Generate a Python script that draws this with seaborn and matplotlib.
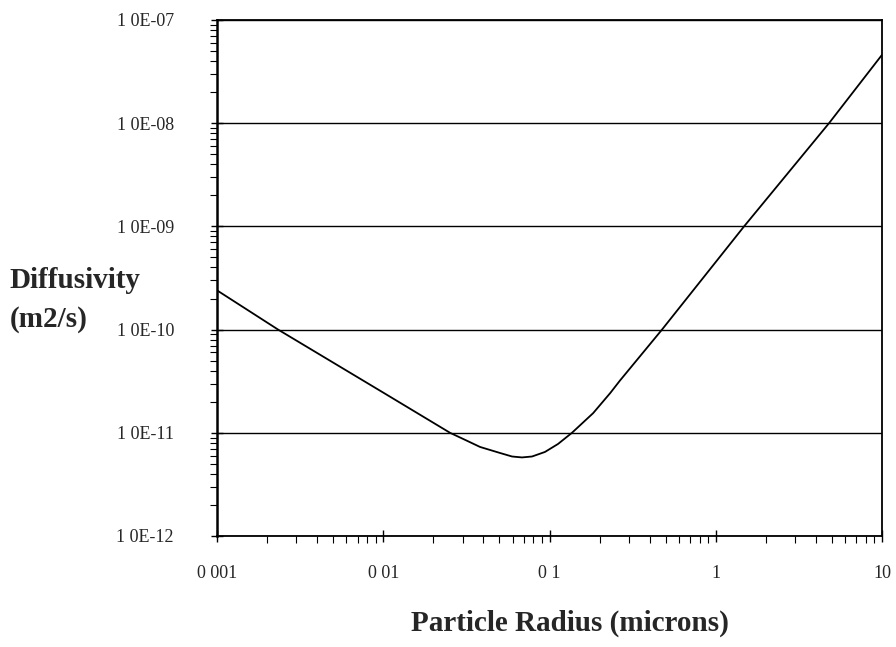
import matplotlib
matplotlib.use('Agg')
import matplotlib.pyplot as plt
import matplotlib.ticker as mticker
import seaborn as sns
import pandas as pd

# values
radius = [0.001, 0.00233, 0.01, 0.0252, 0.031, 0.0382, 0.0504, 0.0595, 0.0683, 0.0785,
          0.0939, 0.1125, 0.1365, 0.183, 0.232, 0.265, 0.475, 1.48, 4.80, 10.0]
diffusivity = [2.4e-10, 1.0e-10, 2.45e-11, 1.0e-11, 8.55e-12, 7.29e-12, 6.37e-12, 5.89e-12, 5.77e-12,
               5.89e-12, 6.52e-12, 7.79e-12, 1.0e-11, 1.55e-11, 2.43e-11, 3.2e-11, 1.0e-10,
               1.0e-9, 1.0e-8, 4.6e-8]

x_ticks = [0.001, 0.01, 0.1, 1, 10]
x_labels = ['0 001', '0 01', '0 1', '1', '10']
y_ticks = [1e-12, 1e-11, 1e-10, 1e-9, 1e-8, 1e-7]
y_labels = ['1 0E-12', '1 0E-11', '1 0E-10', '1 0E-09', '1 0E-08', '1 0E-07']

df = pd.DataFrame({'Radius': radius, 'Diffusivity': diffusivity})

sns.set_theme(style='white')
plt.rcParams['font.family'] = ['Liberation Serif', 'DejaVu Serif']

fig = plt.figure(figsize=(8.96, 6.47), dpi=100)
ax = fig.add_axes([0.2422, 0.1716, 0.7422, 0.7975])

sns.lineplot(data=df, x='Radius', y='Diffusivity', color='black', lw=1.3, ax=ax)
ax.set_xscale('log')
ax.set_yscale('log')
ax.set_xlim(0.001, 10)
ax.set_ylim(1e-12, 1e-7)

ax.xaxis.set_major_locator(mticker.FixedLocator(x_ticks))
ax.xaxis.set_major_formatter(mticker.FixedFormatter(x_labels))
ax.yaxis.set_major_locator(mticker.FixedLocator(y_ticks))
ax.yaxis.set_major_formatter(mticker.FixedFormatter(y_labels))
ax.xaxis.set_minor_locator(mticker.LogLocator(base=10, subs=range(2, 10)))
ax.yaxis.set_minor_locator(mticker.LogLocator(base=10, subs=range(2, 10)))
ax.xaxis.set_minor_formatter(mticker.NullFormatter())
ax.yaxis.set_minor_formatter(mticker.NullFormatter())

ax.tick_params(which='major', direction='inout', length=8, width=1, color='black')
ax.tick_params(which='minor', direction='out', length=5, width=0.8, color='black')
ax.tick_params(axis='x', which='major', pad=17, labelsize=13)
ax.tick_params(axis='y', which='major', pad=27, labelsize=13)
ax.tick_params(axis='both', which='both', bottom=True, left=True)

ax.yaxis.grid(True, which='major', color='black', lw=1)
ax.xaxis.grid(False)
for side in ['left', 'bottom', 'top', 'right']:
    ax.spines[side].set_color('black')
    ax.spines[side].set_linewidth(1.3)
ax.spines['left'].set_linewidth(1.8)

ax.set_xlabel('')
ax.set_ylabel('')

# y label as two lines, like the reference
fig.text(0.011, 1 - 281 / 647, 'Diffusivity', ha='left', va='center',
         fontsize=21, fontweight='bold')
fig.text(0.011, 1 - 320 / 647, '(m2/s)', ha='left', va='center',
         fontsize=21, fontweight='bold')
fig.text(0.636, 0.037, 'Particle Radius (microns)', ha='center', va='center',
         fontsize=21, fontweight='bold')

fig.savefig('out.png', dpi=100, facecolor='white')
